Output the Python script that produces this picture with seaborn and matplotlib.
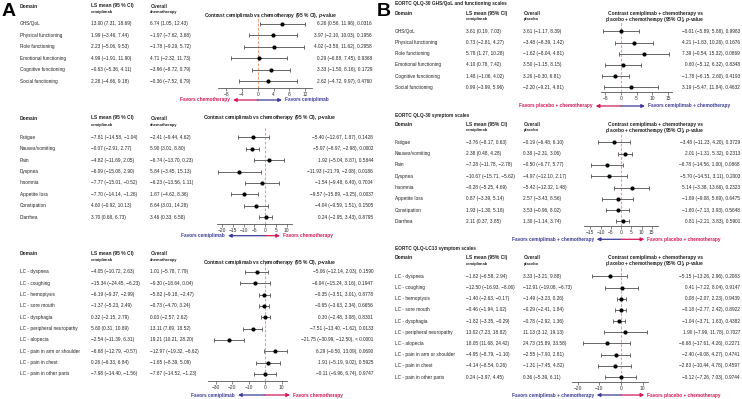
import numpy as np
import pandas as pd
import matplotlib
matplotlib.use("Agg")
import matplotlib.pyplot as plt
from matplotlib.patches import FancyArrowPatch
import seaborn as sns

W, H = 742, 399

# ---------------- panel A : cemiplimab vs chemotherapy ----------------
a1_domains = ["GHS/QoL", "Physical functioning", "Role functioning",
              "Emotional functioning", "Cognitive functioning", "Social functioning"]
a1_cemi = [(13.00, 7.31, 18.69), (1.99, -3.46, 7.44), (2.23, -5.06, 9.53),
           (4.99, -1.91, 11.90), (-0.63, -5.36, 4.11), (2.26, -4.66, 9.18)]
a1_ctrl = [(6.74, 1.05, 12.43), (-1.97, -7.62, 3.68), (-1.78, -9.29, 5.72),
           (4.71, -2.32, 11.73), (-3.96, -8.72, 0.79), (-0.36, -7.52, 6.79)]
a1_diff = [(6.26, 0.56, 11.96), (3.97, -2.10, 10.03), (4.02, -3.58, 11.62),
           (0.29, -6.88, 7.45), (3.33, -1.50, 8.16), (2.62, -4.72, 9.97)]
a1_p = ["0.0316", "0.1956", "0.2958", "0.9368", "0.1729", "0.4760"]
a1_ticks = [-8, -4, 0, 4, 8, 12]

a2_domains = ["Fatigue", "Nausea/vomiting", "Pain", "Dyspnea", "Insomnia",
              "Appetite loss", "Constipation", "Diarrhea"]
a2_cemi = [(-7.81, -14.58, -1.04), (-0.07, -2.91, 2.77), (-4.82, -11.69, 2.05),
           (-6.09, -15.08, 2.90), (-7.77, -15.01, -0.52), (-7.70, -14.14, -1.26),
           (4.60, -0.92, 10.13), (3.70, 0.68, 6.73)]
a2_ctrl = [(-2.41, -9.44, 4.62), (5.90, 3.01, 8.80), (-6.74, -13.70, 0.23),
           (5.84, -3.45, 15.13), (-6.23, -13.56, 1.11), (1.87, -4.62, 8.36),
           (8.64, 3.01, 14.28), (3.46, 0.33, 6.58)]
a2_diff = [(-5.40, -12.67, 1.87), (-5.97, -8.97, -2.98), (1.92, -5.04, 8.87),
           (-11.93, -21.79, -2.08), (-1.54, -9.48, 6.40), (-9.57, -15.89, -3.25),
           (-4.04, -9.59, 1.51), (0.24, -2.95, 3.43)]
a2_p = ["0.1428", "0.0002", "0.5844", "0.0186", "0.7004", "0.0037", "0.1505", "0.8795"]
a2_ticks = [-20, -15, -10, -5, 0, 5, 10]

a3_domains = ["LC - dyspnea", "LC - coughing", "LC - hemoptysis", "LC - sore mouth",
              "LC - dysphagia", "LC - peripheral neuropathy", "LC - alopecia",
              "LC - pain in arm or shoulder", "LC - pain in chest", "LC - pain in other parts"]
a3_cemi = [(-4.05, -10.72, 2.63), (-15.34, -24.45, -6.23), (-6.19, -9.37, -2.99),
           (-1.37, -5.23, 2.49), (0.32, -2.15, 2.79), (5.60, 0.31, 10.89),
           (-2.54, -11.39, 6.31), (-6.68, -12.79, -0.57), (0.26, -6.33, 6.84),
           (-7.98, -14.40, -1.56)]
a3_ctrl = [(1.01, -5.78, 7.79), (-9.30, -18.64, 0.04), (-5.82, -9.18, -2.47),
           (-0.73, -4.70, 3.24), (0.03, -2.57, 2.62), (13.11, 7.69, 18.52),
           (19.21, 10.21, 28.20), (-12.97, -19.32, -6.62), (-1.65, -8.39, 5.09),
           (-7.87, -14.52, -1.23)]
a3_diff = [(-5.06, -12.14, 2.03), (-6.04, -15.24, 3.16), (-0.35, -3.51, 3.01),
           (-0.65, -3.63, 2.34), (0.30, -2.48, 3.08), (-7.51, -13.40, -1.62),
           (-21.75, -30.99, -12.50), (6.29, -0.50, 13.09), (1.91, -5.19, 9.02),
           (-0.11, -6.96, 6.74)]
a3_p = ["0.1590", "0.1947", "0.8778", "0.6656", "0.8301", "0.0133", "< 0.0001",
        "0.0690", "0.5925", "0.9747"]
a3_ticks = [-30, -20, -10, 0, 10]

# ---------------- panel B : cemiplimab + chemo vs placebo + chemo ----------------
b1_domains = a1_domains
b1_cemi = [(3.61, 0.19, 7.03), (0.73, -2.81, 4.27), (5.78, 1.27, 10.28),
           (4.10, 0.78, 7.42), (1.48, -1.06, 4.02), (0.99, -3.99, 5.96)]
b1_ctrl = [(3.61, -1.17, 8.39), (-3.48, -8.39, 1.42), (-1.62, -8.04, 4.81),
           (3.50, -1.15, 8.15), (3.26, -0.30, 6.81), (-2.20, -9.21, 4.81)]
b1_diff = [(-0.01, -5.89, 5.88), (4.21, -1.83, 10.26), (7.39, -0.54, 15.32),
           (0.60, -5.12, 6.32), (-1.78, -6.15, 2.60), (3.19, -5.47, 11.84)]
b1_p = ["0.9983", "0.1676", "0.0869", "0.8348", "0.4193", "0.4632"]
b1_ticks = [-5, 0, 5, 10, 15]

b2_domains = a2_domains
b2_cemi = [(-3.76, -8.17, 0.63), (2.38, 0.48, 4.28), (-7.28, -11.78, -2.78),
           (-10.67, -15.71, -5.62), (-0.28, -5.25, 4.69), (0.87, -3.39, 5.14),
           (1.93, -1.30, 5.16), (2.11, 0.37, 3.85)]
b2_ctrl = [(-0.19, -6.48, 6.10), (0.38, -2.31, 3.06), (-0.50, -6.77, 5.77),
           (-4.97, -12.10, 2.17), (-5.42, -12.32, 1.48), (2.57, -3.43, 8.56),
           (3.53, -0.96, 8.02), (1.30, -1.14, 3.74)]
b2_diff = [(-3.48, -11.23, 4.20), (2.01, -1.31, 5.32), (-6.78, -14.56, 1.00),
           (-5.70, -14.51, 3.11), (5.14, -3.38, 13.66), (-1.69, -9.08, 5.69),
           (-1.60, -7.13, 3.93), (0.81, -2.21, 3.83)]
b2_p = ["0.3729", "0.2313", "0.0868", "0.2003", "0.2323", "0.6475", "0.5648", "0.5901"]
b2_ticks = [-15, -10, -5, 0, 5, 10, 15]

b3_domains = a3_domains
b3_cemi = [(-1.82, -6.58, 2.94), (-12.50, -16.93, -8.06), (-1.40, -2.63, -0.17),
           (-0.46, -1.94, 1.02), (-1.82, -3.35, -0.29), (13.02, 7.23, 18.82),
           (18.05, 11.68, 24.42), (-4.95, -8.79, -1.10), (-4.14, -8.54, 0.26),
           (0.24, -3.97, 4.45)]
b3_ctrl = [(3.33, -3.21, 9.88), (-12.91, -19.08, -6.73), (-1.49, -3.23, 0.26),
           (-0.29, -2.41, 1.84), (-0.78, -2.92, 1.36), (11.13, 3.12, 19.13),
           (24.73, 15.89, 33.58), (-2.55, -7.90, 2.81), (-1.31, -7.45, 4.82),
           (0.36, -5.39, 6.11)]
b3_diff = [(-5.15, -13.26, 2.96), (0.41, -7.22, 8.04), (0.08, -2.07, 2.23),
           (-0.18, -2.77, 2.42), (-1.04, -3.71, 1.63), (1.90, -7.99, 11.78),
           (-6.68, -17.61, 4.26), (-2.40, -9.08, 4.27), (-2.83, -10.44, 4.78),
           (-0.12, -7.26, 7.03)]
b3_p = ["0.2083", "0.9147", "0.9439", "0.8922", "0.4382", "0.7027", "0.2271",
        "0.4741", "0.4597", "0.9744"]
b3_ticks = [-20, -10, 0, 10]

RED = "#D11A56"
BLUE = "#3B3B98"
DASH = "#F4A07A"

sns.set_theme(style="white")
plt.rcParams["font.family"] = ["Liberation Sans", "DejaVu Sans"]
plt.rcParams["mathtext.fontset"] = "custom"
plt.rcParams["mathtext.it"] = "Liberation Sans:italic:bold"
plt.rcParams["mathtext.rm"] = "Liberation Sans:bold"

fig = plt.figure(figsize=(W / 100, H / 100), dpi=100)


def fx(x):
    return x / W


def fy(y):
    return 1 - y / H


def txt(x, y, s, size=3.45, **kw):
    fig.text(fx(x), fy(y), s, fontsize=size, va="center", color=kw.pop("color", "#222"), **kw)


def ci(t):
    return f"{t[0]:.2f} ({t[1]:.2f}, {t[2]:.2f})".replace("-", "\u2212")


def table(domains, cemi, ctrl, rows, xs):
    for i, d in enumerate(domains):
        txt(xs[0], rows[i], d)
        txt(xs[1], rows[i], ci(cemi[i]))
        txt(xs[2], rows[i], ci(ctrl[i]))


def header(y1, y2, xs, ls_label, ctrl_label):
    txt(xs[0], y1, "Domain", size=3.5, weight="bold")
    txt(xs[1], y1, ls_label, size=3.5, weight="bold")
    txt(xs[1], y2, "cemiplimab", size=2.9, weight="bold")
    txt(xs[2], y1, "Overall", size=3.5, weight="bold")
    txt(xs[2], y2, ctrl_label, size=2.9, weight="bold")


def forest(diff, pvals, rows, axis_y, xl, xr, x0, scale, ticks, text_x):
    sp = rows[1] - rows[0]
    top = rows[0] - 0.9 * sp
    ax = fig.add_axes([fx(xl), fy(axis_y), (xr - xl) / W, (axis_y - top) / H])
    df = pd.DataFrame(diff, columns=["est", "lo", "hi"])
    df["row"] = np.arange(len(df))
    ax.axvline(0, color=DASH, ls=(0, (2.5, 1.5)), lw=0.8, zorder=1)
    ax.errorbar(df["est"], df["row"], xerr=[df["est"] - df["lo"], df["hi"] - df["est"]],
                fmt="none", ecolor="#666666", elinewidth=0.7, capsize=1.2, capthick=0.7, zorder=2)
    sns.scatterplot(data=df, x="est", y="row", ax=ax, color="black", s=9,
                    marker="o", linewidth=0, zorder=3)
    ax.set_xlim((xl - x0) / scale, (xr - x0) / scale)
    ax.set_ylim((axis_y - rows[0]) / sp, (top - rows[0]) / sp)
    ax.set_xticks(ticks)
    ax.set_yticks([])
    ax.set_xlabel("")
    ax.set_ylabel("")
    for s in ["left", "top", "right"]:
        ax.spines[s].set_visible(False)
    ax.spines["bottom"].set_color("#555555")
    ax.spines["bottom"].set_linewidth(0.6)
    ax.tick_params(axis="x", length=2, width=0.5, labelsize=3.5, pad=1,
                   colors="#555555", labelcolor="#333333", bottom=True)
    ax.patch.set_alpha(0)
    for i in range(len(diff)):
        txt(text_x, rows[i], ci(diff[i]) + ", " + pvals[i], ha="right")


def arrows(y, x0, xleft, xright, left_label, right_label, left_color, right_color):
    for xe, c in [(xleft, left_color), (xright, right_color)]:
        fig.add_artist(FancyArrowPatch((fx(x0), fy(y)), (fx(xe), fy(y)),
                                       transform=fig.transFigure, arrowstyle="-|>",
                                       mutation_scale=5, color=c, lw=0.9,
                                       shrinkA=0, shrinkB=0))
    txt(xleft - 3, y, left_label, size=3.4, ha="right", color=left_color, weight="bold")
    txt(xright + 3, y, right_label, size=3.4, ha="left", color=right_color, weight="bold")


# ---------------- panel A ----------------
fig.text(fx(2), fy(12), "A", fontsize=14, weight="bold", va="center", color="black")
xa = [20, 90.7, 150.3]
titleA = "Contrast cemiplimab vs chemotherapy (95 % CI), $p$-value"

rows = 24 + 11.4 * np.arange(len(a1_domains))
header(6, 12, xa, "LS mean (95 % CI)", "chemotherapy")
txt(271, 15, titleA, size=3.5, ha="center", weight="bold")
table(a1_domains, a1_cemi, a1_ctrl, rows, xa)
forest(a1_diff, a1_p, rows, 88, 218, 311.7, 257.7, 3.95, a1_ticks, 372)
arrows(100, 257.7, 233, 282, "Favors chemotherapy", "Favors cemiplimab", RED, BLUE)

rows = 137.3 + 11.4 * np.arange(len(a2_domains))
header(118, 125, xa, "LS mean (95 % CI)", "chemotherapy")
txt(270, 118, titleA, size=3.5, ha="center", weight="bold")
table(a2_domains, a2_cemi, a2_ctrl, rows, xa)
forest(a2_diff, a2_p, rows, 224, 216.7, 291.7, 265, 2.15, a2_ticks, 373)
arrows(235.7, 265, 228, 280, "Favors cemiplimab", "Favors chemotherapy", BLUE, RED)

rows = 271.8 + 11.35 * np.arange(len(a3_domains))
header(253.8, 260, xa, "LS mean (95 % CI)", "chemotherapy")
txt(270, 262.8, titleA, size=3.5, ha="center", weight="bold")
table(a3_domains, a3_cemi, a3_ctrl, rows, xa)
forest(a3_diff, a3_p, rows, 381, 207.7, 286.7, 265, 1.65, a3_ticks, 373)
arrows(395, 265, 238, 290, "Favors cemiplimab", "Favors chemotherapy", BLUE, RED)

# ---------------- panel B ----------------
fig.text(fx(377), fy(12), "B", fontsize=14, weight="bold", va="center", color="black")
xb = [395, 465.7, 523.3]
title1 = "Contrast cemiplimab + chemotherapy vs"
title2 = "placebo + chemotherapy (95% CI), $p$-value"

rows = 31.3 + 11.2 * np.arange(len(b1_domains))
txt(395, 4, "EORTC QLQ-30 GHS/QoL and functioning scales", size=3.4, weight="bold")
header(13.3, 19.3, xb, "LS mean (95% CI)", "placebo")
txt(655, 13.3, title1, size=3.5, ha="center", weight="bold")
txt(655, 19.5, title2, size=3.5, ha="center", weight="bold")
table(b1_domains, b1_cemi, b1_ctrl, rows, xb)
forest(b1_diff, b1_p, rows, 91.7, 601, 672.3, 621, 3.13, b1_ticks, 740)
arrows(106, 621, 595.7, 645, "Favors placebo + chemotherapy",
       "Favors cemiplimab + chemotherapy", RED, BLUE)

rows = 142.3 + 11.3 * np.arange(len(b2_domains))
txt(395, 115, "EORTC QLQ-30 symptom scales", size=3.4, weight="bold")
header(124.3, 130.3, xb, "LS mean (95% CI)", "placebo")
txt(655, 124.3, title1, size=3.5, ha="center", weight="bold")
txt(655, 130.5, title2, size=3.5, ha="center", weight="bold")
table(b2_domains, b2_cemi, b2_ctrl, rows, xb)
forest(b2_diff, b2_p, rows, 226, 584.3, 657.7, 621, 2.05, b2_ticks, 740)
arrows(239.3, 621, 596.7, 644.3, "Favors cemiplimab + chemotherapy",
       "Favors placebo + chemotherapy", BLUE, RED)

rows = 276.3 + 11.2 * np.arange(len(b3_domains))
txt(395, 248.3, "EORTC QLQ-LC13 symptom scales", size=3.4, weight="bold")
header(257.7, 263.7, xb, "LS mean (95% CI)", "placebo")
txt(655, 257.7, title1, size=3.5, ha="center", weight="bold")
txt(655, 263.9, title2, size=3.5, ha="center", weight="bold")
table(b3_domains, b3_cemi, b3_ctrl, rows, xb)
forest(b3_diff, b3_p, rows, 382.3, 572.3, 647.7, 621, 2.17, b3_ticks, 740)
arrows(395, 621, 596.7, 644.3, "Favors cemiplimab + chemotherapy",
       "Favors placebo + chemotherapy", BLUE, RED)

fig.savefig("out.png", dpi=100, facecolor="white")
